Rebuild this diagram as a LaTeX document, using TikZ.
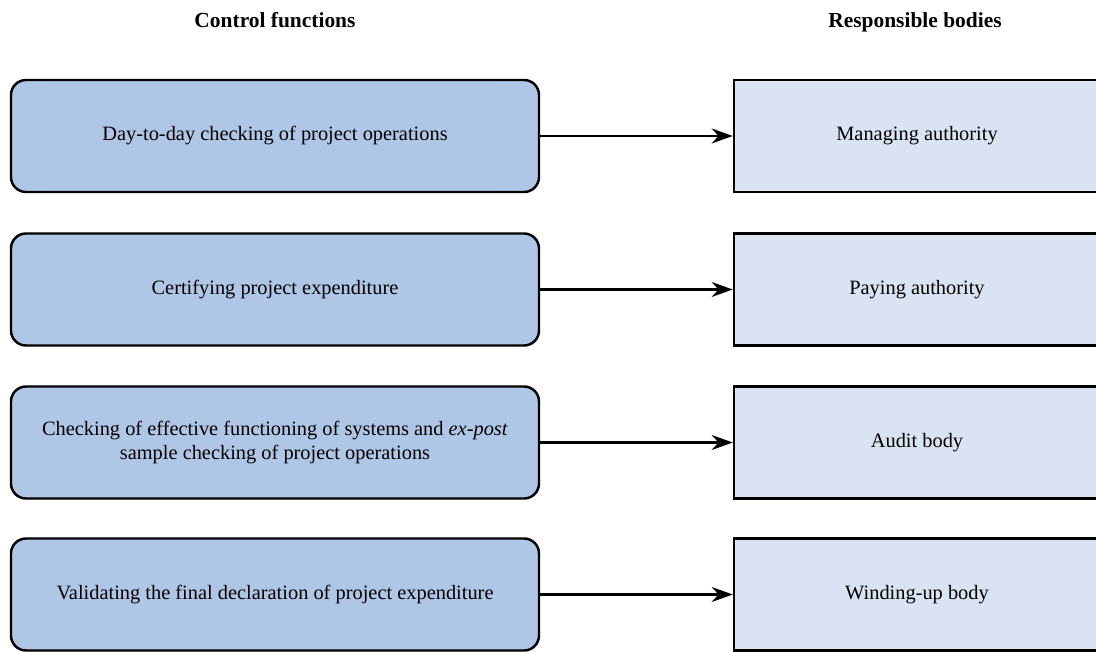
\documentclass[tikz,border=0pt]{standalone}
\usepackage{fontspec}
\setmainfont{Liberation Serif}
\usepackage{tikz}
\usetikzlibrary{arrows.meta,
	positioning}

\definecolor{funcblue}{RGB}{176,198,230}
\definecolor{bodyblue}{RGB}{217,227,242}

\begin{document}
\begin{tikzpicture}[
        font=\fontsize{11.6}{14}\selectfont,
        funcbox/.style={draw, line width=1.4pt, rounded corners=0.3cm, fill=funcblue,
            minimum width=10.56cm, minimum height=2.24cm, align=center},
        bodybox/.style={draw, line width=1.4pt, fill=bodyblue,
            minimum width=7.32cm, minimum height=2.24cm, align=center},
        head/.style={font=\fontsize{12.2}{14}\selectfont\bfseries, anchor=base},
        link/.style={-{Stealth[length=12pt,width=8.5pt]}, line width=1.4pt}
    ]

        \useasboundingbox (0,0) rectangle (21.92,13.02);
        \clip (0,0) rectangle (21.92,13.02);

        \node[head] (hfunc) at(5.50,12.46) {Control functions};
        \node[head] (hbody) at(18.30,12.46) {Responsible bodies};

        \node[funcbox] (check) at(5.50,10.30) {Day-to-day checking of project operations};
        \node[funcbox] (certify) at(5.50,7.23) {Certifying project expenditure};
        \node[funcbox] (audit) at(5.50,4.17) {Checking of effective functioning of systems and \emph{ex-post}\\ sample checking of project operations};
        \node[funcbox] (validate) at(5.50,1.13) {Validating the final declaration of project expenditure};

        \node[bodybox] (managing) at(18.34,10.30) {Managing authority};
        \node[bodybox] (paying) at(18.34,7.23) {Paying authority};
        \node[bodybox] (auditbody) at(18.34,4.17) {Audit body};
        \node[bodybox] (windup) at(18.34,1.13) {Winding-up body};

        \draw [link] (check) -- (managing);
        \draw [link] (certify) -- (paying);
        \draw [link] (audit) -- (auditbody);
        \draw [link] (validate) -- (windup);

    \end{tikzpicture}
\end{document}
